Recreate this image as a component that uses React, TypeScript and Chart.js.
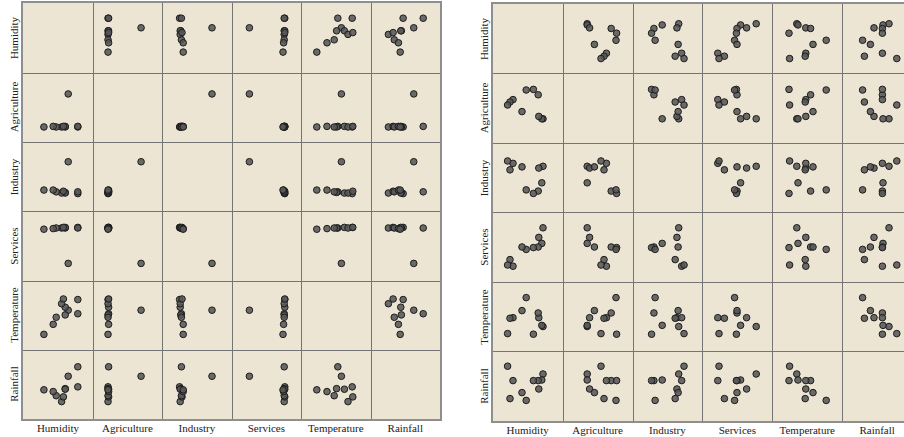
import React, { useEffect, useRef } from "react";
import { Chart, registerables } from "chart.js";

Chart.register(...registerables);

const variableNames = ["Humidity", "Agriculture", "Industry", "Services", "Temperature", "Rainfall"];

// Left matrix: raw values (relative position within each panel, 0-100)
const humidityRaw = [83, 83, 67, 62, 62, 56, 59, 47, 42, 26.5];
const agricultureRaw = [17, 18, 73, 17, 18, 17, 18, 17, 18, 17];
const industryRaw = [21, 24, 75, 23, 22, 22, 25, 24, 27, 27];
const servicesRaw = [81, 80, 21, 80, 81, 80, 81, 80, 79, 78];
const temperatureRaw = [77, 53, 59, 51, 64, 70, 78, 47, 35, 18];
const rainfallRaw = [46, 80, 64, 43, 42, 21, 29, 31, 38, 41];

// Right matrix: transformed values (0-100)
const humidityT = [75, 73, 68, 67, 59, 47, 40, 25, 20, 16];
const agricultureT = [32, 32, 36, 72, 81, 80, 44, 64, 60, 55];
const industryT = [69, 41, 66, 27, 23, 29, 68, 74, 63, 78];
const servicesT = [82, 56, 66, 50, 49, 46, 50, 18, 29, 20];
const temperatureT = [33, 35, 48, 56, 20, 82, 60, 48, 47, 21];
const rainfallT = [70, 60, 45, 59, 59, 26, 39, 59, 29, 83];

const seriesRaw = [humidityRaw, agricultureRaw, industryRaw, servicesRaw, temperatureRaw, rainfallRaw];
const seriesT = [humidityT, agricultureT, industryT, servicesT, temperatureT, rainfallT];

const PANEL_BG = "rgb(236,229,211)";
const LINE = "#747474";
const FRAME = "#8e8e8e";
const FONT = "'Liberation Serif', 'Times New Roman', serif";

function Panel(props: { xs: number[]; ys: number[]; left: number; top: number; w: number; h: number }) {
  const ref = useRef<HTMLCanvasElement>(null);
  const { xs, ys, left, top, w, h } = props;
  useEffect(() => {
    const chart = new Chart(ref.current as HTMLCanvasElement, {
      type: "scatter",
      data: {
        datasets: [
          {
            data: xs.map((x, i) => ({ x, y: ys[i] })),
            pointRadius: 3.3,
            pointBackgroundColor: "rgba(88,88,88,0.88)",
            pointBorderColor: "#1c1c1c",
            pointBorderWidth: 1,
            showLine: false,
          },
        ],
      },
      options: {
        animation: false,
        responsive: false,
        events: [],
        layout: { padding: 0 },
        plugins: { legend: { display: false }, tooltip: { enabled: false } },
        scales: {
          x: { type: "linear", min: 0, max: 100, display: false },
          y: { type: "linear", min: 0, max: 100, display: false },
        },
      },
    });
    return () => chart.destroy();
  }, []);
  return (
    <canvas
      ref={ref}
      width={w}
      height={h}
      style={{ position: "absolute", left, top, width: w, height: h }}
    />
  );
}

function Matrix(props: {
  series: number[][];
  x0: number;
  y0: number;
  cw: number;
  ch: number;
  labelTop: number;
  yLabelX: number;
}) {
  const { series, x0, y0, cw, ch, labelTop, yLabelX } = props;
  const n = variableNames.length;
  const items: any[] = [];
  items.push(
    <div
      key="frame"
      style={{
        position: "absolute",
        left: x0 - 2,
        top: y0 - 2,
        width: n * cw,
        height: n * ch,
        border: `2px solid ${FRAME}`,
        background: PANEL_BG,
      }}
    />
  );
  for (let r = 0; r < n; r++) {
    for (let c = 0; c < n; c++) {
      if (r === c) continue;
      const left = Math.round(x0 + c * cw);
      const top = Math.round(y0 + r * ch);
      const w = Math.round(x0 + (c + 1) * cw) - left;
      const h = Math.round(y0 + (r + 1) * ch) - top;
      items.push(<Panel key={`p${r}-${c}`} xs={series[c]} ys={series[r]} left={left} top={top} w={w} h={h} />);
    }
  }
  for (let k = 1; k < n; k++) {
    items.push(
      <div
        key={`v${k}`}
        style={{ position: "absolute", left: Math.round(x0 + k * cw) - 0.5, top: y0, width: 1.2, height: n * ch, background: LINE }}
      />
    );
    items.push(
      <div
        key={`h${k}`}
        style={{ position: "absolute", left: x0, top: Math.round(y0 + k * ch) - 0.5, width: n * cw, height: 1.2, background: LINE }}
      />
    );
  }
  for (let c = 0; c < n; c++) {
    items.push(
      <div
        key={`xl${c}`}
        style={{
          position: "absolute",
          left: x0 + c * cw,
          top: labelTop,
          width: cw,
          height: 14,
          lineHeight: "14px",
          textAlign: "center",
          fontFamily: FONT,
          fontSize: 11,
          color: "#222",
          whiteSpace: "nowrap",
        }}
      >
        {variableNames[c]}
      </div>
    );
  }
  for (let r = 0; r < n; r++) {
    const cy = y0 + r * ch + ch / 2;
    items.push(
      <div
        key={`yl${r}`}
        style={{
          position: "absolute",
          left: yLabelX - ch / 2,
          top: cy - 7,
          width: ch,
          height: 14,
          lineHeight: "14px",
          textAlign: "center",
          fontFamily: FONT,
          fontSize: 11,
          color: "#222",
          whiteSpace: "nowrap",
          transform: "rotate(-90deg)",
          transformOrigin: "50% 50%",
        }}
      >
        {variableNames[r]}
      </div>
    );
  }
  return <>{items}</>;
}

export default function App() {
  return (
    <div
      style={{
        position: "absolute",
        left: 0,
        top: 0,
        width: 904,
        height: 437,
        overflow: "hidden",
        background: "#fff",
      }}
    >
      <Matrix series={seriesRaw} x0={23.3} y0={3.3} cw={69.45} ch={69.3} labelTop={421} yLabelX={14} />
      <Matrix series={seriesT} x0={492.7} y0={4} cw={69.9} ch={69.45} labelTop={423} yLabelX={483.5} />
    </div>
  );
}
